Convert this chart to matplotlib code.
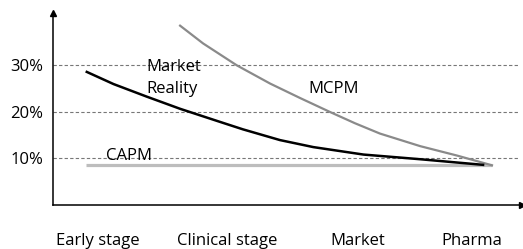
import matplotlib
matplotlib.use("Agg")
import matplotlib.pyplot as plt

plt.rcParams['font.family'] = ['Open Sans', 'DejaVu Sans']

stages = ["Early stage", "Clinical stage", "Market", "Pharma"]
stage_x = [9.5, 37.2, 64.9, 89.3]

yticks = [10, 20, 30]
ytick_labels = ["10%", "20%", "30%"]

market_x = [7.2, 12.9, 20.0, 27.1, 35.6, 40.5, 48.4, 55.5, 66.2, 78.3, 86.1, 91.7]
market_y = [28.5, 25.9, 23.2, 20.6, 17.8, 16.2, 13.9, 12.4, 10.8, 9.8, 9.1, 8.6]

mcpm_x = [27.1, 32.0, 39.2, 46.3, 52.7, 59.1, 64.4, 69.7, 78.3, 86.1, 93.6]
mcpm_y = [38.4, 34.6, 29.9, 26.0, 22.9, 19.9, 17.5, 15.3, 12.6, 10.6, 8.5]

capm_x = [7.0, 93.7]
capm_y = [8.5, 8.5]

W, H = 523, 249
fig = plt.figure(figsize=(W/100, H/100), dpi=100)
ax = fig.add_axes([53/W, (H-205)/H, (522-53)/W, (205-13)/H])
ax.set_xlim(0, 100)
ax.set_ylim(0, (205-13)/4.67)

for y in yticks:
    ax.plot([0, 99.4], [y, y], color='#777777', lw=0.8, ls=(0, (3, 2)), zorder=1)

ax.plot(capm_x, capm_y, color='#bdbdbd', lw=2.3, solid_capstyle='butt', zorder=2)
ax.plot(mcpm_x, mcpm_y, color='#8a8a8a', lw=1.6, zorder=3, solid_joinstyle='round')
ax.plot(market_x, market_y, color='black', lw=1.8, zorder=4, solid_joinstyle='round')

for s in ['top', 'right']:
    ax.spines[s].set_visible(False)
for s in ['left', 'bottom']:
    ax.spines[s].set_linewidth(1.1)
ax.plot(1, 0, '>k', transform=ax.transAxes, clip_on=False, ms=5)
ax.plot(0, 1, '^k', transform=ax.transAxes, clip_on=False, ms=5)

ax.set_yticks(yticks)
ax.set_yticklabels(ytick_labels, fontsize=12)
ax.tick_params(axis='y', length=0, pad=7)
ax.set_xticks([])

for lab, x in zip(stages, stage_x):
    ax.text(x, -35.5 / 4.67, lab, ha='center', va='center', fontsize=12)

ax.text(20.0, 27.2, "Market\nReality", ha='left', va='center', fontsize=12, linespacing=1.45)
ax.text(54.4, 24.8, "MCPM", ha='left', va='center', fontsize=12)
ax.text(11.3, 10.4, "CAPM", ha='left', va='center', fontsize=12)

fig.savefig("out.png", dpi=100)
